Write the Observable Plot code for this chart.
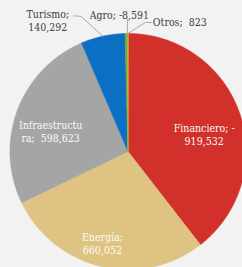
<!DOCTYPE html>
<html><head><meta charset="utf-8">
<script src="https://cdn.jsdelivr.net/npm/d3@7"></script>
<script src="https://cdn.jsdelivr.net/npm/@observablehq/plot@0.6"></script>
<style>html,body{margin:0;padding:0;background:#f2f2f2;overflow:hidden}</style>
</head><body><div id="chart"></div>
<script>
const sectors = ["Financiero","Energía","Infraestructura","Turismo","Agro","Otros"];
const values = [-919532, 660052, 598623, 140292, -8591, 823];
const labelLines = ["Financiero; -\n919,532","Energía;\n660,052","Infraestructu\nra;  598,623","Turismo;\n140,292","Agro; -8,591","Otros;  823"];
const colors = ["#d2302a","#dfc382","#a5a5a5","#0b6fc3","#6aaa45","#e8b422"];

const W = 242, H = 267, cx = 127.5, cy = 151, R = 118;
const data = sectors.map((s,i)=>({sector:s, value:values[i], label:labelLines[i]}));
const arcs = d3.pie().sort(null).value(d=>Math.abs(d.value))(data);
const byName = Object.fromEntries(arcs.map(a=>[a.data.sector,a]));

const polys = [];
for (const a of arcs) {
  polys.push({sector:a.data.sector, x:0, y:0});
  const n = Math.max(2, Math.ceil((a.endAngle-a.startAngle)/0.005));
  for (let k=0;k<=n;k++){
    const t = a.startAngle+(a.endAngle-a.startAngle)*k/n;
    polys.push({sector:a.data.sector, x:Math.sin(t), y:-Math.cos(t)});
  }
}
function at(name, r, ox=0, oy=0){
  const a = byName[name], m = (a.startAngle+a.endAngle)/2;
  return {x:r*Math.sin(m)+ox/R, y:-r*Math.cos(m)+oy/R, label:a.data.label, id:name};
}
// callout leaders (offsets in px from slice edge)
const leaders = [
  at("Turismo",1), at("Turismo",1,-22,-20), at("Turismo",1,-29,-20.3),
  at("Agro",1,1,0), at("Agro",1,1,-14),
  at("Otros",1), at("Otros",1,17.5,-11), at("Otros",1,23.5,-11)
];
const font = "'DejaVu Serif Condensed','DejaVu Serif',serif";
const inside = (p, o={}) => Plot.text([p], {x:"x", y:"y", text:"label", fill:"#fafafa", fontSize:10.5, lineHeight:1.25, ...o});
const outside = (p, o={}) => Plot.text([p], {x:"x", y:"y", text:"label", fill:"#404040", fontSize:10.5, lineHeight:1.25, ...o});

const chart = Plot.plot({
  width: W, height: H, margin: 0,
  style: {background:"#f2f2f2", fontFamily: font, overflow:"hidden"},
  x: {domain:[-1,1], range:[cx-R, cx+R], axis:null},
  y: {domain:[-1,1], range:[cy-R, cy+R], axis:null},
  color: {domain: sectors, range: colors},
  marks: [
    Plot.line(polys, {x:"x", y:"y", z:"sector", fill:"sector", stroke:"sector", strokeWidth:0.6, curve:"linear-closed"}),
    Plot.line(leaders, {x:"x", y:"y", z:"id", stroke:"#a6a6a6", strokeWidth:1}),
    inside(at("Financiero",0.7), {dx:-2, dy:10}),
    inside(at("Energía",0.8), {dx:-4, dy:0}),
    inside(at("Infraestructura",0.7), {dx:0, dy:9}),
    outside(at("Turismo",1,-55,-16.3)),
    outside(at("Agro",1,-7,-19)),
    outside(at("Otros",1,25,-12), {textAnchor:"start"})
  ]
});
document.getElementById("chart").appendChild(chart);
</script></body></html>
